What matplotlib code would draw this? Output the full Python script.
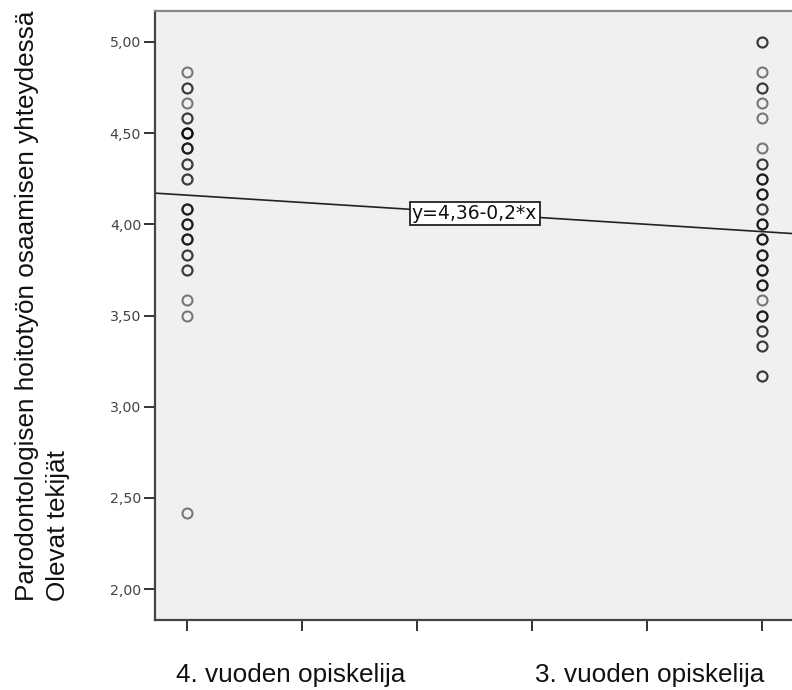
import matplotlib
matplotlib.use("Agg")
import matplotlib.pyplot as plt
import numpy as np

# ---- data ----
categories = ["4. vuoden opiskelija", "3. vuoden opiskelija"]
cat_positions = [1, 2]

group4_values = [4.833, 4.75, 4.75, 4.667, 4.583, 4.583,
                 4.5, 4.5, 4.5, 4.5, 4.417, 4.417, 4.417,
                 4.333, 4.333, 4.25, 4.25, 4.083, 4.083, 4.083,
                 4.0, 4.0, 4.0, 3.917, 3.917, 3.917, 3.833, 3.833,
                 3.75, 3.75, 3.583, 3.5, 2.417]
group3_values = [5.0, 5.0, 4.833, 4.75, 4.75, 4.667, 4.583, 4.417,
                 4.333, 4.333, 4.25, 4.25, 4.25, 4.167, 4.167, 4.167,
                 4.083, 4.083, 4.0, 4.0, 4.0, 3.917, 3.917, 3.917,
                 3.833, 3.833, 3.833, 3.75, 3.75, 3.75, 3.667, 3.667, 3.667,
                 3.583, 3.5, 3.5, 3.5, 3.417, 3.417, 3.333, 3.333,
                 3.167, 3.167]
fit_intercept = 4.36
fit_slope = -0.2
fit_label = "y=4,36-0,2*x"
y_ticks = [2.0, 2.5, 3.0, 3.5, 4.0, 4.5, 5.0]
y_tick_labels = ["2,00", "2,50", "3,00", "3,50", "4,00", "4,50", "5,00"]
x_ticks = [1.0, 1.2, 1.4, 1.6, 1.8, 2.0]
ylabel_line1 = "Parodontologisen hoitotyön osaamisen yhteydessä"
ylabel_line2 = "Olevat tekijät"

# ---- figure ----
W, H = 792, 690
fig = plt.figure(figsize=(W / 100, H / 100), dpi=100)
fig.patch.set_facecolor("white")
ax = fig.add_axes([155 / W, (H - 620) / H, (W - 155) / W, 609 / H])
ax.set_facecolor("#F0F0F0")

xlim = (0.9443, 2.052)
ax.set_xlim(*xlim)
ax.set_ylim(1.83, 5.17)

for xpos, vals in zip(cat_positions, [group4_values, group3_values]):
    ax.plot([xpos] * len(vals), vals, linestyle="none", marker="o",
            markersize=7.2, markerfacecolor="none",
            markeredgecolor=(0, 0, 0, 0.5), markeredgewidth=1.5, zorder=3)

xs = np.array(xlim)
ax.plot(xs, fit_intercept + fit_slope * xs, color="#222222", lw=1.2, zorder=2)
xm = 1.5
ax.text(xm, fit_intercept + fit_slope * xm, fit_label, ha="center", va="center",
        fontsize=13.5, family="DejaVu Sans", color="#111111", zorder=5,
        bbox=dict(boxstyle="square,pad=0.12", facecolor="white",
                  edgecolor="#222222", linewidth=1.3))

ax.set_yticks(y_ticks)
ax.set_yticklabels(y_tick_labels, fontsize=10.2, color="#444444", family="DejaVu Sans")
ax.set_xticks(x_ticks)
ax.set_xticklabels([])
ax.tick_params(axis="both", direction="out", length=8, width=1.4, color="#333333", pad=2)

for side in ["left", "bottom"]:
    ax.spines[side].set_color("#444444")
    ax.spines[side].set_linewidth(1.6)
ax.spines["top"].set_color("#888888")
ax.spines["top"].set_linewidth(1.6)
ax.spines["right"].set_visible(False)

# category labels
fig.text(176 / W, (H - 682) / H, categories[0], ha="left", va="baseline",
         fontsize=18.8, family="Liberation Sans", color="#111111")
fig.text(535 / W, (H - 682) / H, categories[1], ha="left", va="baseline",
         fontsize=18.8, family="Liberation Sans", color="#111111")

# y label (two lines, rotated)
fig.text(27.5 / W, (H - 601) / H, ylabel_line1, rotation=90, ha="center", va="bottom",
         fontsize=18.8, family="Liberation Sans", color="#111111")
fig.text(57.5 / W, (H - 601) / H, ylabel_line2, rotation=90, ha="center", va="bottom",
         fontsize=18.8, family="Liberation Sans", color="#111111")

fig.savefig("out.png", dpi=100, facecolor="white")
